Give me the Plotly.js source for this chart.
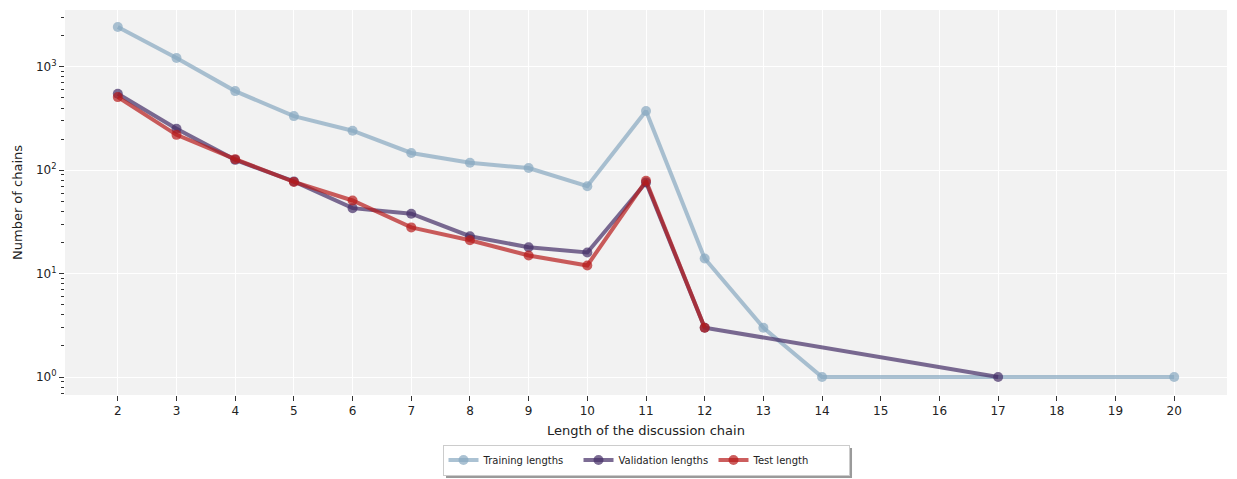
<!DOCTYPE html>
<html>
<head>
<meta charset="utf-8">
<script src="https://cdn.plot.ly/plotly-3.0.1.min.js"></script>
<style>
  html, body { margin: 0; padding: 0; background: #ffffff; }
  #chart { width: 1237px; height: 479px; }
</style>
</head>
<body>
<div id="chart"></div>
<script>
// chain lengths and counts
const trainX = [2, 3, 4, 5, 6, 7, 8, 9, 10, 11, 12, 13, 14, 20];
const trainY = [2430, 1220, 583, 334, 241, 147, 118, 105, 70, 374, 14, 3, 1, 1];

const valX = [2, 3, 4, 5, 6, 7, 8, 9, 10, 11, 12, 17];
const valY = [550, 252, 126, 78, 43, 38, 23, 18, 16, 76, 3, 1];

const testX = [2, 3, 4, 5, 6, 7, 8, 9, 10, 11, 12];
const testY = [510, 220, 128, 77, 51, 28, 21, 15, 12, 79, 3];

const seriesNames = ["Training lengths", "Validation lengths", "Test length"];
const xTicks = [2, 3, 4, 5, 6, 7, 8, 9, 10, 11, 12, 13, 14, 15, 16, 17, 18, 19, 20];
const yTicks = [1, 10, 100, 1000];
const yTickText = ["10<sup>0</sup>", "10<sup>1</sup>", "10<sup>2</sup>", "10<sup>3</sup>"];
const yMinorTicks = [0.7, 0.8, 0.9, 2, 3, 4, 5, 6, 7, 8, 9, 20, 30, 40, 50, 60, 70, 80, 90,
  200, 300, 400, 500, 600, 700, 800, 900, 2000, 3000];

const colors = [
  "rgba(136,168,193,0.7)",
  "rgba(68,46,103,0.7)",
  "rgba(182,25,25,0.7)",
];

function makeTrace(x, y, name, color) {
  return {
    x: x,
    y: y,
    name: name,
    type: "scatter",
    mode: "lines+markers",
    line: { color: color, width: 4 },
    marker: { color: color, size: 10 },
  };
}

const data = [
  makeTrace(trainX, trainY, seriesNames[0], colors[0]),
  makeTrace(valX, valY, seriesNames[1], colors[1]),
  makeTrace(testX, testY, seriesNames[2], colors[2]),
];

const font = "DejaVu Sans, sans-serif";

const layout = {
  width: 1237,
  height: 479,
  margin: { l: 65, r: 10, t: 10, b: 84, autoexpand: false },
  paper_bgcolor: "#ffffff",
  plot_bgcolor: "#f2f2f2",
  font: { family: font, size: 12, color: "#222222" },
  showlegend: true,
  legend: {
    orientation: "h",
    x: 0.5,
    xanchor: "center",
    y: -0.169,
    yanchor: "middle",
    bgcolor: "#ffffff",
    bordercolor: "#cccccc",
    borderwidth: 1,
    font: { family: font, size: 10, color: "#222222" },
    itemwidth: 30,
    entrywidth: 90,
    tracegroupgap: 0,
  },
  // drop shadow behind the legend box
  shapes: [
    {
      type: "rect",
      xref: "paper",
      yref: "paper",
      x0: 0.3279,
      x1: 0.6773,
      y0: -0.1377,
      y1: -0.2156,
      fillcolor: "#9a9a9a",
      line: { width: 0 },
      layer: "below",
    },
  ],
  xaxis: {
    range: [1.1, 20.9],
    tickvals: xTicks,
    ticks: "outside",
    ticklen: 5,
    tickcolor: "#333333",
    showgrid: true,
    gridcolor: "#ffffff",
    gridwidth: 1,
    zeroline: false,
    showline: false,
    tickfont: { size: 12 },
    title: { text: "Length of the discussion chain", font: { size: 13 }, standoff: 8 },
  },
  yaxis: {
    type: "log",
    range: [-0.174, 3.55],
    tickvals: yTicks,
    ticktext: yTickText,
    ticks: "outside",
    ticklen: 5,
    tickcolor: "#333333",
    showgrid: true,
    gridcolor: "#ffffff",
    gridwidth: 1,
    zeroline: false,
    showline: false,
    tickfont: { size: 12 },
    minor: {
      tickmode: "array",
      tickvals: yMinorTicks,
      ticks: "outside",
      ticklen: 3,
      tickcolor: "#333333",
      showgrid: false,
    },
    title: { text: "Number of chains", font: { size: 13 }, standoff: 10 },
  },
};

Plotly.newPlot("chart", data, layout, { displayModeBar: false, staticPlot: true });
</script>
</body>
</html>
